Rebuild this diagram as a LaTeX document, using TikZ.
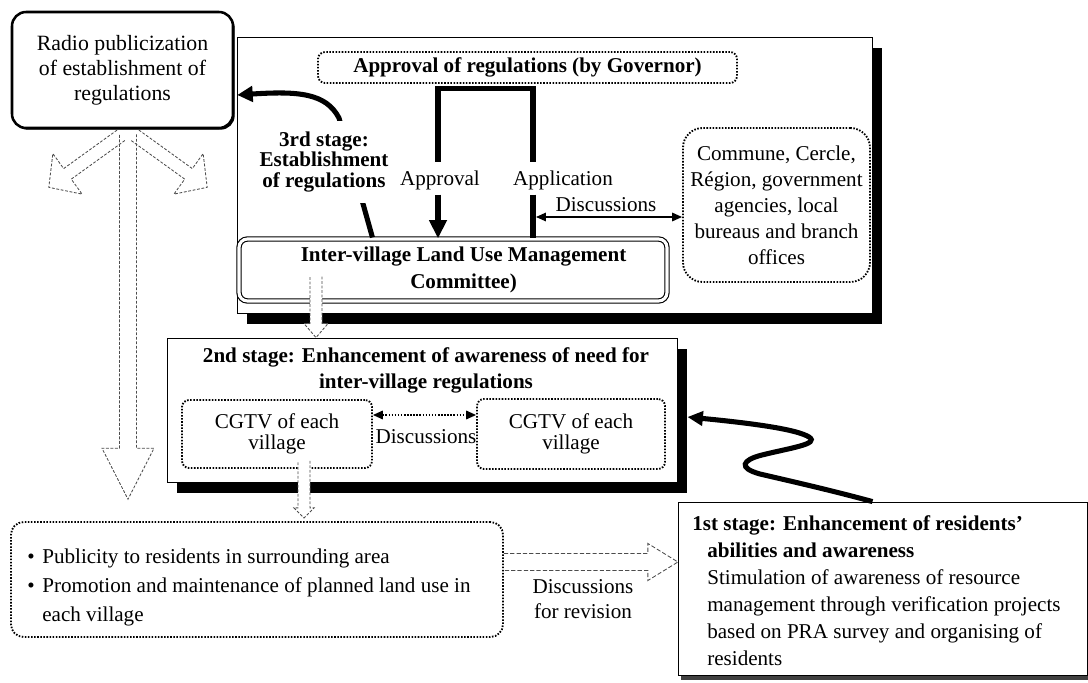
\documentclass[tikz,border=0pt]{standalone}
\usepackage{fontspec}
\setmainfont{Liberation Serif}
\usetikzlibrary{arrows.meta,shadows,calc}

\tikzset{
  boxsize/.style 2 args={minimum width=#1*0.025cm, minimum height=#2*0.025cm},
  shadowbox/.style={draw, fill=white, line width=0.6pt,
    drop shadow={shadow xshift=7pt, shadow yshift=-8pt, fill=black, opacity=1}},
  dotbox/.style={draw, dash pattern=on 1.1pt off 1.1pt, line width=1.3pt, rounded corners=7pt},
  heavy/.style={line width=3.6pt},
  hollow/.style={draw=gray!60!black, line width=0.6pt, dash pattern=on 2pt off 1.2pt},
}

% fat open arrow: [style]{start}{angle}{length}{shaft}{head}{head length}
\newcommand{\fatarrow}[7][]{%
  \begin{scope}[shift={#2}, rotate=#3]
    \draw[#1] (0,-#5) -- ({#4-#7},-#5) -- ({#4-#7},-#6) -- (#4,0)
      -- ({#4-#7},#6) -- ({#4-#7},#5) -- (0,#5);
  \end{scope}}

\begin{document}
\begin{tikzpicture}[x=0.025cm, y=-0.025cm, font=\fontsize{15}{18}\selectfont]
  \useasboundingbox (0,0) rectangle (1088,683);

  % 3rd stage frame
  \node[shadowbox, boxsize={635}{276}] (stage3) at (554.5,175) {};
  \node[draw, fill=white, line width=1.8pt, rounded corners=10pt, boxsize={221}{116},
    drop shadow={shadow xshift=1.2pt, shadow yshift=-1.2pt, fill=black, opacity=1},
    align=center, font=\fontsize{15.5}{17.8}\selectfont] (radio) at (122.5,70)
    {Radio publicization\\of establishment of\\regulations};
  \node[dotbox, rounded corners=5pt, boxsize={419}{31}] (governor) at (527.5,67.5)
    {\textbf{Approval of regulations (by Governor)}};
  \node[dotbox, rounded corners=14pt, boxsize={187}{154}, align=center,
    font=\fontsize{15}{18.5}\selectfont] (commune) at (776.5,205)
    {Commune, Cercle,\\Région, government\\agencies, local\\bureaus and branch\\offices};
  \node[draw, double, double distance=2.2pt, line width=0.8pt, rounded corners=6pt,
    boxsize={428}{62}, align=center, font=\fontsize{15}{19.2}\selectfont\bfseries]
    (committee) at (453,270) {\hspace*{15pt}Inter-village Land Use Management\\\hspace*{15pt}Committee)};

  % establishment arrow to radio
  \coordinate (c3) at ($(committee.north west)+(134,-1)$);
  \draw[heavy, -{Triangle[length=11pt,width=11pt]}] (c3) -- (339,118)
    .. controls (326,93) and (298,91) .. ($(radio.east)+(3,25)$);
  \node[fill=white, align=center, inner xsep=2pt, inner ysep=8pt,
    font=\fontsize{15}{14.5}\selectfont\bfseries] (s3txt) at (324,162)
    {3rd stage:\\Establishment\\of regulations};

  % approval and application
  \node (appr) at (440,180) {Approval};
  \node (appl) at (563,180) {Application};
  \coordinate (brA) at (438,162);
  \coordinate (brB) at (533,162);
  \coordinate (brtop) at ([yshift=-3pt]governor.south);
  \draw[heavy] (brA) -- (brA |- brtop) -- (brB |- brtop) -- (brB);
  \draw[heavy, -{Triangle[length=13pt,width=12pt]}] (appr.south -| brA) -- (committee.north -| brA);
  \draw[heavy] (appl.south -| brB) -- (committee.north -| brB);
  \coordinate (dl) at (536,217);
  \draw[line width=1pt, {Triangle[length=7pt,width=6pt]}-{Triangle[length=7pt,width=6pt]}]
    (dl) -- (commune.west |- dl);
  \node (disc1) at (606,205) {Discussions};

  % 2nd stage
  \node[shadowbox, boxsize={510}{144}] (stage2) at (422,410) {};
  \node[align=center, font=\fontsize{15}{18.5}\selectfont\bfseries] (s2txt) at (426,370)
    {2nd stage: Enhancement of awareness of need for\\inter-village regulations};
  \node[dotbox, rounded corners=5pt, boxsize={190}{68}, align=center,
    font=\fontsize{15}{15}\selectfont] (cgtv1) at (277,434) {CGTV of each\\village};
  \node[dotbox, rounded corners=5pt, boxsize={188}{70}, align=center,
    font=\fontsize{15}{15}\selectfont] (cgtv2) at (571,434) {CGTV of each\\village};
  \coordinate (dc) at (420,415);
  \draw[dash pattern=on 1.1pt off 1.1pt, line width=1.2pt,
    {Triangle[length=7pt,width=6pt]}-{Triangle[length=7pt,width=6pt]}]
    (cgtv1.east |- dc) -- (cgtv2.west |- dc);
  \node (disc2) at (426,437) {Discussions};

  % publicity box
  \node[dotbox, rounded corners=9pt, boxsize={492}{115}] (pub) at (257,579.5) {};
  \node[anchor=north west, inner sep=0pt, align=left, font=\fontsize{15}{20.6}\selectfont]
    (pubtxt) at (27,549)
    {\makebox[10.7pt][l]{\textbullet}Publicity to residents in surrounding area\\
     \makebox[10.7pt][l]{\textbullet}Promotion and maintenance of planned land use in\\
     \hspace*{10.7pt}each village};

  % 1st stage
  \node[draw, fill=white, line width=0.6pt, boxsize={409}{173},
    drop shadow={shadow xshift=2pt, shadow yshift=-3.5pt, fill=black!75, opacity=1}]
    (stage1) at (882.5,588.5) {};
  \node[anchor=north west, inner sep=0pt, align=left, font=\fontsize{15}{19.2}\selectfont]
    (s1txt) at (692,515)
    {\textbf{1st stage: Enhancement of residents'}\\
     \hspace*{10.7pt}\textbf{abilities and awareness}\\
     \hspace*{10.7pt}Stimulation of awareness of resource\\
     \hspace*{10.7pt}management through verification projects\\
     \hspace*{10.7pt}based on PRA survey and organising of\\
     \hspace*{10.7pt}residents};
  \node[align=center, font=\fontsize{15}{17.8}\selectfont] (rev) at (583,599)
    {Discussions\\for revision};

  % open arrows
  \fatarrow[hollow]{($(radio.south)+(5.5,5)$)}{-90}{365}{8.5}{26}{51}
  \fatarrow[hollow]{($(radio.south)+(-1.5,6)$)}{215.8}{89}{6.5}{25}{23}
  \fatarrow[hollow]{($(radio.south)+(12.5,6)$)}{-35.8}{89}{6.5}{25}{23}
  \fatarrow[hollow, fill=white]{($(committee.south)+(-137,-25)$)}{-90}{61}{6}{12}{14}
  \fatarrow[hollow, fill=white]{($(cgtv1.south)+(27,-8)$)}{-90}{57}{6}{10}{10}
  \fatarrow[hollow, dash pattern=on 3pt off 1.5pt]{($(pub.east)+(0,-17.5)$)}{0}{174}{8.5}{18.5}{30}

  % wavy arrow from 1st to 2nd stage
  \coordinate (wend) at ($(stage2.east)+(10,7)$);
  \draw[heavy, -{Triangle[length=11pt,width=10pt]}] ($(stage1.north)+(-10,0)$)
    .. controls (830,490) and (790,481) .. (760,474)
    .. controls (738,468) and (742,460) .. (762,455)
    .. controls (790,448) and (820,444) .. (809,437)
    .. controls (798,430) and (760,424) .. (wend);
\end{tikzpicture}
\end{document}
